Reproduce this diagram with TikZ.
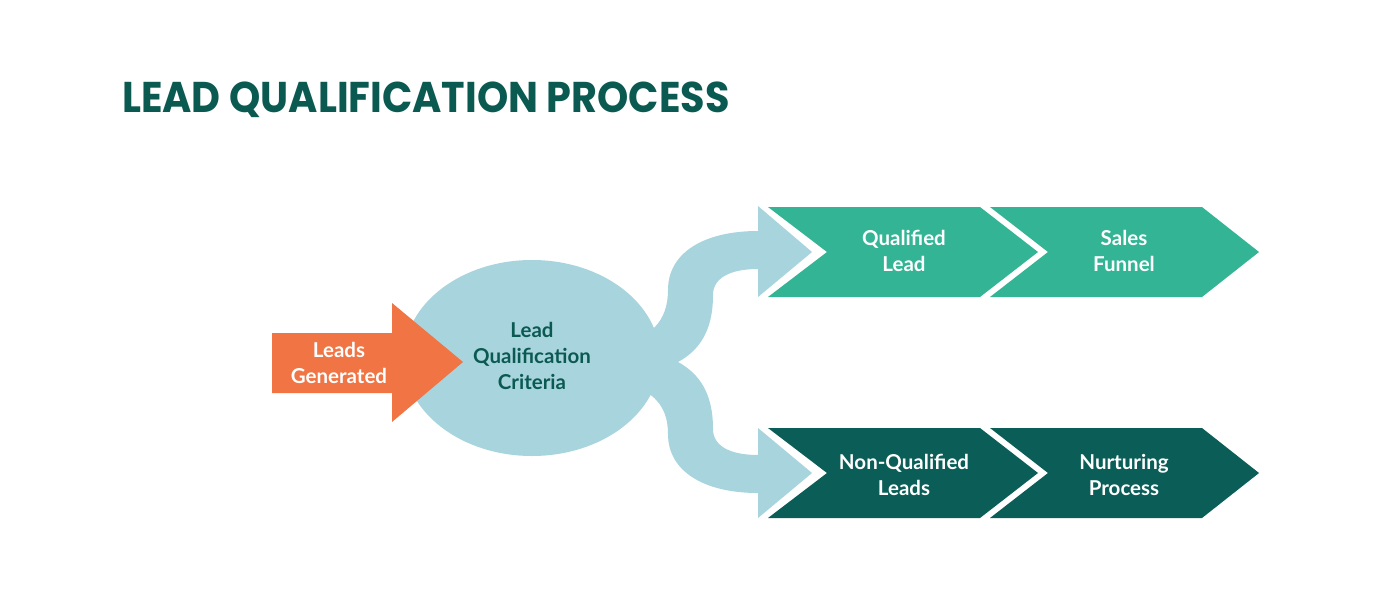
\documentclass[tikz,border=0pt]{standalone}
\usepackage{fontspec}
\newfontfamily\lato{Lato}
\newfontfamily\titlefont{Poppins}
\usetikzlibrary{shapes.geometric}
\definecolor{orng}{HTML}{F07444}
\definecolor{lblue}{HTML}{A8D4DE}
\definecolor{grn}{HTML}{33B595}
\definecolor{dgrn}{HTML}{0A5E57}
\definecolor{ttl}{HTML}{0B5A52}
\tikzset{
  lbl/.style={font=\lato\bfseries\fontsize{20.5}{26}\selectfont, align=center, text=white, inner sep=0pt},
  crittext/.style={lbl, text=ttl},
}
\begin{document}
\begin{tikzpicture}[x=1pt,y=-1pt]
\useasboundingbox (0,0) rectangle (1381,594);
\fill[white] (0,0) rectangle (1381,594);
% title
\node[anchor=base west, inner sep=0pt, text=ttl, xscale=0.925, transform shape, font=\titlefont\bfseries\fontsize{43}{43}\selectfont] (title) at (122,112) {LEAD QUALIFICATION PROCESS};
% ellipse
\node[ellipse, fill=lblue, minimum width=256pt, minimum height=196pt, inner sep=0pt] (crit) at (532,358) {};
% branches
\fill[lblue] (625,345) -- (654,328) .. controls (664,318) and (668,305) .. (668,290) .. controls (668,252) and (705,231) .. (758,231) -- (758,269) .. controls (730,269) and (713,278) .. (713,295) .. controls (713,330) and (700,350) .. (678,362) -- (625,362) -- cycle;
\fill[lblue] (625,379) -- (652,396) .. controls (664,406) and (668,419) .. (668,434) .. controls (668,472) and (705,493) .. (758,493) -- (758,455) .. controls (730,455) and (713,446) .. (713,429) .. controls (713,394) and (700,374) .. (678,362) -- (625,362) -- cycle;
\fill[lblue] (758,206) -- (812,252) -- (758,297) -- cycle;
\fill[lblue] (758,428) -- (812,473) -- (758,518) -- cycle;
% chevrons
\fill[grn] (768,207) -- (980,207) -- (1038,252) -- (980,297) -- (768,297) -- (827,252) -- cycle;
\fill[grn] (990,207) -- (1202,207) -- (1259,252) -- (1202,297) -- (990,297) -- (1048,252) -- cycle;
\fill[dgrn] (768,428) -- (980,428) -- (1038,473) -- (980,518) -- (768,518) -- (827,473) -- cycle;
\fill[dgrn] (990,428) -- (1202,428) -- (1259,473) -- (1202,518) -- (990,518) -- (1048,473) -- cycle;
% orange arrow
\fill[orng] (272,333) -- (392,333) -- (392,303) -- (463,362) -- (392,422) -- (392,393) -- (272,393) -- cycle;
% labels
\node[lbl] (leads) at (339,363) {Leads\\Generated};
\node[crittext] (crittxt) at (532,356) {Lead\\Qualification\\Criteria};
\node[lbl] (qual) at (904,251) {Qualified\\Lead};
\node[lbl] (sales) at (1124,251) {Sales\\Funnel};
\node[lbl] (nonq) at (904,475) {Non-Qualified\\Leads};
\node[lbl] (nurt) at (1124,475) {Nurturing\\Process};
\end{tikzpicture}
\end{document}
